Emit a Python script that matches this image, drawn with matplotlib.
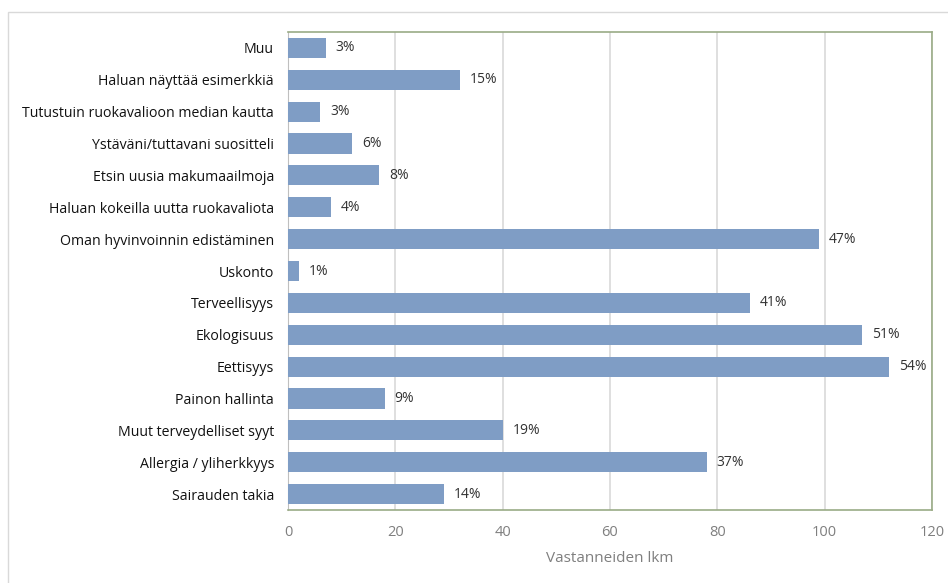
import matplotlib.pyplot as plt
from matplotlib.patches import Rectangle

plt.rcParams['font.family'] = ['Open Sans', 'DejaVu Sans']

# syyt listattuna ylhäältä alas
categories = [
    'Muu',
    'Haluan näyttää esimerkkiä',
    'Tutustuin ruokavalioon median kautta',
    'Ystäväni/tuttavani suositteli',
    'Etsin uusia makumaailmoja',
    'Haluan kokeilla uutta ruokavaliota',
    'Oman hyvinvoinnin edistäminen',
    'Uskonto',
    'Terveellisyys',
    'Ekologisuus',
    'Eettisyys',
    'Painon hallinta',
    'Muut terveydelliset syyt',
    'Allergia / yliherkkyys',
    'Sairauden takia',
]
counts = [7, 32, 6, 12, 17, 8, 99, 2, 86, 107, 112, 18, 40, 78, 29]
percents = ['3%', '15%', '3%', '6%', '8%', '4%', '47%', '1%', '41%',
            '51%', '54%', '9%', '19%', '37%', '14%']
xticks = [0, 20, 40, 60, 80, 100, 120]

fig = plt.figure(figsize=(9.48, 5.83), dpi=100)
ax = fig.add_axes([288 / 948, 1 - 510 / 583, (932 - 288) / 948, (510 - 32) / 583])

# kehys koko kaavion ympärille
fig.patches.append(Rectangle((8 / 948, -0.1), 1.0, 1 - 12 / 583 + 0.1,
                             transform=fig.transFigure, fill=False,
                             edgecolor='#d9d9d9', linewidth=1.0))

y = list(range(len(categories)))
ax.barh(y, counts, height=0.63, color='#7f9dc5', zorder=3)
for yi, c, p in zip(y, counts, percents):
    ax.annotate(p, (c, yi), xytext=(7, 0), textcoords='offset points',
                va='center', ha='left', fontsize=10, color='#333333')

ax.set_ylim(len(categories) - 0.5, -0.5)
ax.set_xlim(0, 120)
ax.set_yticks(y)
ax.set_yticklabels(categories, fontsize=10.2, color='#111111')
ax.set_xticks(xticks)
ax.set_xticklabels([str(t) for t in xticks], fontsize=10.5, color='#7f7f7f')
ax.tick_params(length=0, pad=11)
ax.tick_params(axis='y', pad=10)
ax.grid(axis='x', color='#d9d9d9', linewidth=1.2, zorder=0)

for side in ['top', 'right', 'bottom']:
    ax.spines[side].set_color('#9aab86')
    ax.spines[side].set_linewidth(1.2)
ax.spines['left'].set_color('#bfbfbf')

ax.set_xlabel('Vastanneiden lkm', fontsize=11, color='#7f7f7f', labelpad=8)

fig.savefig('out.png', dpi=100)
